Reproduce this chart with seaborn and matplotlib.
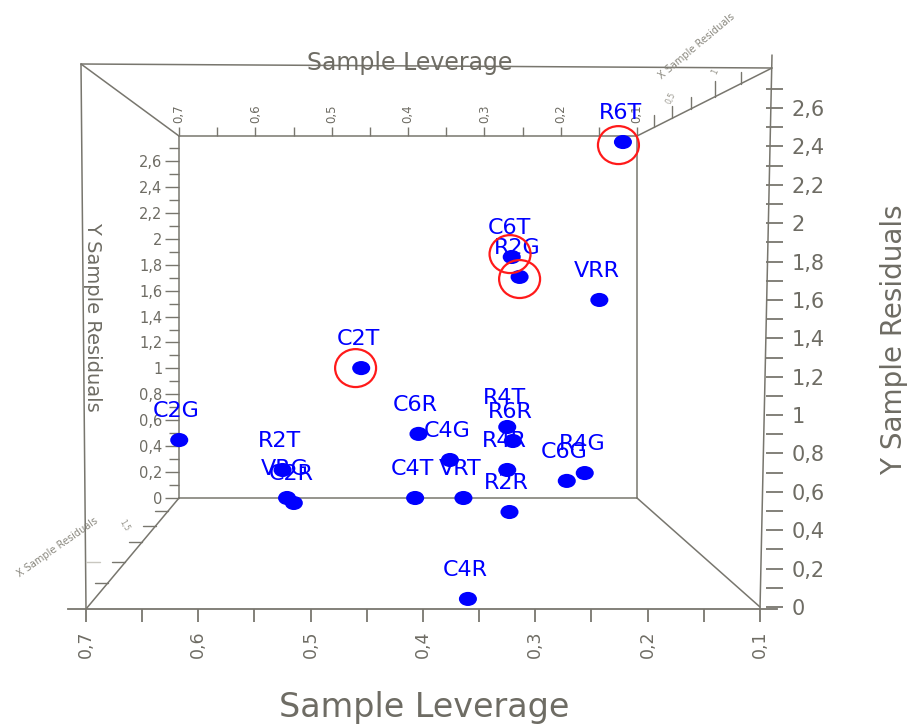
import numpy as np
import pandas as pd
import matplotlib
matplotlib.use("Agg")
import matplotlib.pyplot as plt
import matplotlib.transforms as mtransforms
from matplotlib.path import Path
from matplotlib.ticker import FixedLocator, FuncFormatter
import seaborn as sns

# ---------------- data ----------------
samples = ["R6T", "C6T", "R2G", "VRR", "C2T", "C2G", "C6R", "R4T", "R6R", "C4G",
           "R4R", "R4G", "C6G", "R2T", "VRG", "C2R", "C4T", "VRT", "R2R", "C4R"]
leverage = [0.222, 0.321, 0.314, 0.243, 0.455, 0.617, 0.404, 0.325, 0.320, 0.376,
            0.325, 0.256, 0.272, 0.525, 0.521, 0.515, 0.407, 0.364, 0.323, 0.360]
residuals = [2.423, 1.824, 1.720, 1.600, 1.245, 0.870, 0.902, 0.938, 0.865, 0.766,
             0.714, 0.698, 0.657, 0.714, 0.568, 0.542, 0.568, 0.568, 0.495, 0.042]

flagged = ["R6T", "C6T", "R2G", "C2T"]
flag_leverage = [0.226, 0.3225, 0.314, 0.460]
flag_residuals = [2.407, 1.839, 1.709, 1.245]

lev_major = [0.7, 0.6, 0.5, 0.4, 0.3, 0.2, 0.1]
lev_minor = [0.65, 0.55, 0.45, 0.35, 0.25, 0.15]
res_major = [0, 0.2, 0.4, 0.6, 0.8, 1.0, 1.2, 1.4, 1.6, 1.8, 2.0, 2.2, 2.4, 2.6]
res_minor = [0.1, 0.3, 0.5, 0.7, 0.9, 1.1, 1.3, 1.5, 1.7, 1.9, 2.1, 2.3, 2.5, 2.7]

df = pd.DataFrame({"sample": samples, "leverage": leverage, "residual": residuals})

# ---------------- style ----------------
sns.set_style("white")
plt.rcParams["font.family"] = ["DejaVu Sans"]
GRAY = "#6e6c64"
LINE = "#78766e"
BLUE = "#0000ff"
RED = "#ff1a1a"

W, H = 917, 727
fig = plt.figure(figsize=(W / 100, H / 100), dpi=100)
pix = mtransforms.Affine2D().scale(1 / W, -1 / H).translate(0, 1) + fig.transFigure


def fmt(v, pos=None):
    return f"{round(v, 2):g}".replace(".", ",")


# ---------------- back face (inner box) ----------------
bl, br, bt, bb = 179, 637, 136, 498
axb = fig.add_axes([bl / W, 1 - bb / H, (br - bl) / W, (bb - bt) / H])
axb.set_xlim(0.7, 0.1)
axb.set_ylim(0, (bb - bt) / ((498 - 161) / 2.6))
axb.patch.set_alpha(0)
for sp in axb.spines.values():
    sp.set_color(LINE)
    sp.set_linewidth(1.1)
axb.xaxis.set_ticks_position("top")
axb.yaxis.set_ticks_position("left")
axb.xaxis.set_major_locator(FixedLocator(lev_major))
axb.xaxis.set_minor_locator(FixedLocator(lev_minor))
axb.yaxis.set_major_locator(FixedLocator(res_major))
axb.yaxis.set_minor_locator(FixedLocator(res_minor))
axb.xaxis.set_major_formatter(FuncFormatter(fmt))
axb.yaxis.set_major_formatter(FuncFormatter(fmt))
axb.tick_params(axis="x", which="both", direction="out", length=6.5, width=1.0,
                color=LINE, labelsize=8.5, labelcolor=GRAY, labelrotation=90, pad=3)
axb.tick_params(axis="y", which="major", direction="out", length=10, width=1.0,
                color=LINE, labelsize=10.5, labelcolor=GRAY, pad=2)
axb.tick_params(axis="y", which="minor", direction="out", length=7, width=1.0, color=LINE)
axb.set_xlabel("")
axb.set_ylabel("")


# ---------------- front (main) axes ----------------
def L(px):
    return 0.7 - (px - 86) / 1123.3


def R(py):
    return (607 - py) / 191.9


ax = fig.add_axes([0, 0, 1, 1])
ax.patch.set_alpha(0)
ax.set_xlim(L(0), L(W))
ax.set_ylim(R(H), R(0))
ax.spines["left"].set_visible(False)
ax.spines["top"].set_visible(False)
ax.spines["bottom"].set_position(("data", R(609)))
ax.spines["bottom"].set_bounds(L(68), L(777))
ax.spines["bottom"].set_color(LINE)
ax.spines["bottom"].set_linewidth(1.3)
ax.spines["right"].set_position(("data", L(766)))
ax.spines["right"].set_color("none")
ax.xaxis.set_ticks_position("bottom")
ax.yaxis.set_ticks_position("right")
ax.xaxis.set_major_locator(FixedLocator(lev_major))
ax.xaxis.set_minor_locator(FixedLocator(lev_minor))
ax.yaxis.set_major_locator(FixedLocator(res_major))
ax.yaxis.set_minor_locator(FixedLocator(res_minor))
ax.xaxis.set_major_formatter(FuncFormatter(fmt))
ax.yaxis.set_major_formatter(FuncFormatter(fmt))
ax.tick_params(axis="x", which="both", direction="out", length=9.5, width=1.3,
               color=LINE, labelsize=12.5, labelcolor=GRAY, labelrotation=90, pad=6)
ax.tick_params(axis="y", which="both", direction="out", length=12.5, width=1.3,
               color=LINE, labelsize=15, labelcolor=GRAY, pad=6)

# box edges (decoration)
edges = [
    ((81, 64), (772, 68)),     # outer top
    ((81, 64), (86, 609)),     # outer left
    ((760, 609), (772, 55)),   # outer right
    ((81, 64), (179, 136)),    # diagonal TL
    ((637, 136), (772, 68)),   # diagonal TR
    ((86, 609), (179, 498)),   # diagonal BL
    ((760, 607), (637, 498)),  # diagonal BR
]
for (x0, y0), (x1, y1) in edges:
    ax.plot([x0, x1], [y0, y1], color=LINE, lw=1.1, transform=pix, zorder=1)

# X-residual axis ticks on top-right diagonal
for tx, tl in [(654, 12), (672, 12), (691, 12), (715, 16), (741, 12)]:
    ty = 136 + (tx - 637) * (68 - 136) / (772 - 637)
    ax.plot([tx, tx], [ty, ty - tl], color=LINE, lw=1.0, transform=pix, zorder=1)
ax.text(671, 98, "0,5", transform=pix, fontsize=5.5, color="#9a988f", rotation=65,
        ha="center", va="center")
ax.text(715, 72, "1", transform=pix, fontsize=6, color="#9a988f", rotation=65,
        ha="center", va="center")
ax.text(697, 46, "X Sample Residuals", transform=pix, fontsize=7, color="#8a887f",
        rotation=40, ha="center", va="center")

# X-residual axis ticks on bottom-left diagonal
for ty, tl in [(511, 13), (526, 13), (542, 13), (562, 13), (583, 13)]:
    tx = 86 + (609 - ty) * (179 - 86) / (609 - 498)
    ax.plot([tx, tx - tl], [ty, ty], color=LINE, lw=1.0, transform=pix, zorder=1)
ax.plot([86, 100], [562, 562], color="#c9c7c0", lw=1.0, transform=pix, zorder=1)
ax.text(124, 525, "1,5", transform=pix, fontsize=5.5, color="#9a988f", rotation=-60,
        ha="center", va="center")
ax.text(58, 547, "X Sample Residuals", transform=pix, fontsize=7, color="#8a887f",
        rotation=35, ha="center", va="center")

# axis titles
ax.text(410, 63, "Sample Leverage", transform=pix, fontsize=17, color=GRAY,
        ha="center", va="center")
ax.text(424, 707, "Sample Leverage", transform=pix, fontsize=24, color=GRAY,
        ha="center", va="center")
ax.text(894, 340, "Y Sample Residuals", transform=pix, fontsize=20, color=GRAY,
        rotation=90, ha="center", va="center")
ax.text(93, 317, "Y Sample Residuals", transform=pix, fontsize=14, color=GRAY,
        rotation=270, ha="center", va="center")

# ---------------- points ----------------
circ = Path.unit_circle()
dot_marker = Path(circ.vertices * np.array([1.28, 1.0]), circ.codes)
ring_marker = Path(circ.vertices * np.array([1.08, 1.0]), circ.codes)

sns.scatterplot(data=df, x="leverage", y="residual", ax=ax, color=BLUE, s=13 ** 2,
                marker=dot_marker, edgecolor="none", linewidth=0, legend=False, zorder=3)
ax.set_xlabel("")
ax.set_ylabel("")

for name, x, y in zip(df["sample"], df["leverage"], df["residual"]):
    ax.annotate(name, (x, y), xytext=(-2, 21), textcoords="offset points",
                ha="center", va="center", fontsize=16, color=BLUE, zorder=4)

ax.scatter(flag_leverage, flag_residuals, s=29.5 ** 2, marker=ring_marker,
           facecolors="none", edgecolors=RED, linewidths=1.6, zorder=5)

fig.savefig("out.png", dpi=100)
